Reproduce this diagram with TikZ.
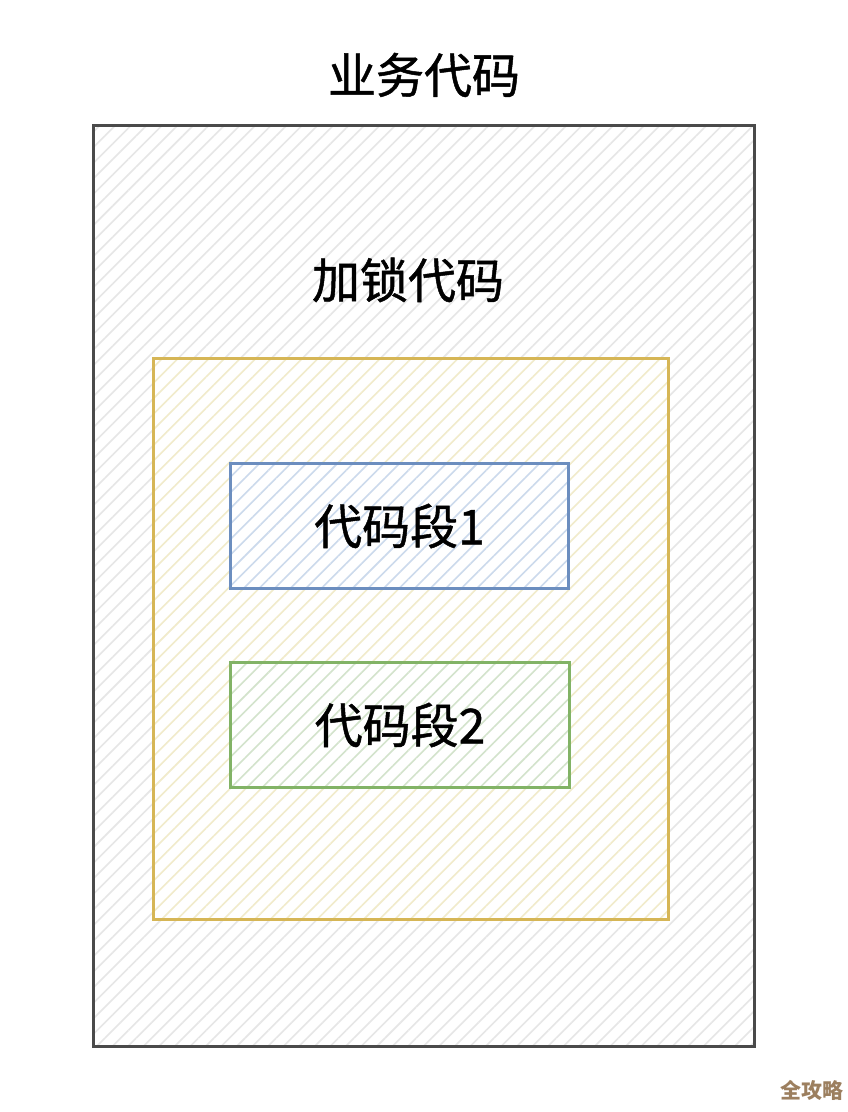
\documentclass[tikz,border=0pt]{standalone}
\usepackage{fontspec}
\setmainfont[FakeBold=1.0]{Noto Sans CJK SC}
\newfontfamily\markfont{Noto Sans CJK SC}
\usepackage{tikz}
\usetikzlibrary{patterns.meta}

\definecolor{bizline}{HTML}{4A4A4A}
\definecolor{bizhatch}{HTML}{E6E6E6}
\definecolor{lockline}{HTML}{D6B656}
\definecolor{lockhatch}{HTML}{F1EBCB}
\definecolor{segaline}{HTML}{6C8EBF}
\definecolor{segahatch}{HTML}{CCDAEC}
\definecolor{segbline}{HTML}{82B366}
\definecolor{segbhatch}{HTML}{D3E3CC}
\definecolor{markcol}{HTML}{9C7F5F}

\begin{document}
\begin{tikzpicture}[x=1pt, y=-1pt]

	\tikzstyle{box}=[draw, line width=3pt, inner sep=0pt, anchor=north west, preaction={fill=white}]
	\tikzstyle{hatch}=[pattern={Lines[angle=45, distance=11pt, line width=1.6pt]}]
	\tikzstyle{label}=[font=\fontsize{48}{54}\selectfont, text=black]

	\fill[white] (0,0) rectangle (848,1112);
	\useasboundingbox (0,0) rectangle (848,1112);

	% outer box
	\node[box, hatch, draw=bizline, pattern color=bizhatch, minimum width=661pt, minimum height=921pt] (biz) at (93,125) {};
	\node[label] (bizlabel) at (424,75) {业务代码};

	% lock box
	\node[label] (locklabel) at (408,280) {加锁代码};
	\node[box, hatch, draw=lockline, pattern color=lockhatch, minimum width=515pt, minimum height=561pt] (lock) at (152,357) {};

	% segments
	\node[box, hatch, draw=segaline, pattern color=segahatch, minimum width=338pt, minimum height=125pt] (sega) at (229,462) {};
	\node[label] (segalabel) at (sega.center) {代码段1};

	\node[box, hatch, draw=segbline, pattern color=segbhatch, minimum width=339pt, minimum height=125pt] (segb) at (229,661) {};
	\node[label] (segblabel) at (segb.center) {代码段2};

	% watermark
	\node[font=\markfont\bfseries\fontsize{21}{24}\selectfont, text=markcol] (mark) at (812,1090) {全攻略};

\end{tikzpicture}
\end{document}
